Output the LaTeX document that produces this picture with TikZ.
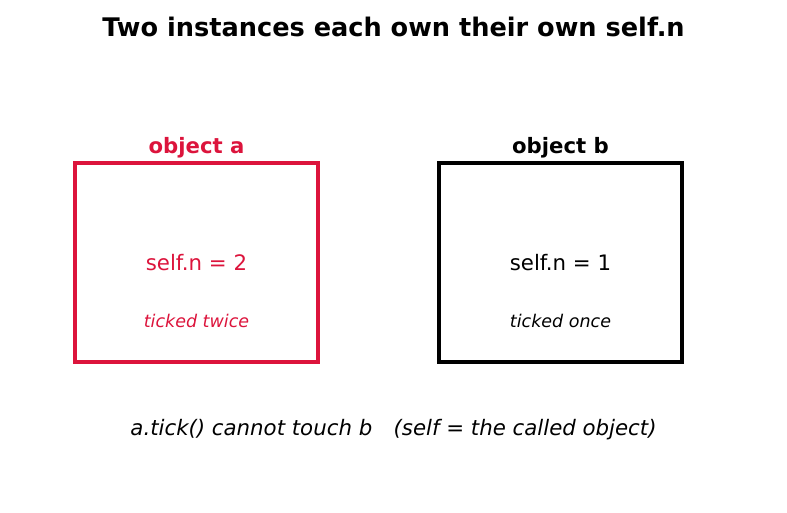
\documentclass[tikz,border=0pt]{standalone}
\usepackage{fontspec}
\setmainfont{DejaVu Sans}
\usepackage{xcolor}
\usepackage{tikz}
\definecolor{crimson}{HTML}{DC143C}

\begin{document}
\begin{tikzpicture}[x=1pt, y=-1pt,
        objbox/.style={draw, line width=4.5pt, minimum width=243pt, minimum height=199pt, inner sep=0pt},
        objname/.style={font=\fontsize{21.2}{24}\selectfont\bfseries},
        objval/.style={font=\fontsize{21.3}{24}\selectfont},
        objnote/.style={font=\fontsize{17.5}{20}\selectfont\itshape}]
        \useasboundingbox (0,0) rectangle (787,512);

        % Title
        \node (title) at (393.5,27) {\fontsize{25.6}{30}\selectfont\bfseries Two instances each own their own self.n};

        % Draw objects
        \node[objbox, draw=crimson] (A) at (196.5,262.5) {};
        \node[objbox, draw=black] (B) at (560.5,262.5) {};

        % Labels
        \node[objname, text=crimson] (Aname) at (196.5,148) {object a};
        \node[objname] (Bname) at (560.5,148) {object b};
        \node[objval, text=crimson] (Aval) at (196.5,263) {self.n = 2};
        \node[objval] (Bval) at (560.5,263) {self.n = 1};
        \node[objnote, text=crimson] (Anote) at (196.5,321) {ticked twice};
        \node[objnote] (Bnote) at (560.5,321) {ticked once};

        % Note
        \node (note) at (393.5,429.5) {\fontsize{21.3}{24}\selectfont\itshape a.tick() cannot touch b\quad (self = the called object)};
      \end{tikzpicture}
\end{document}
